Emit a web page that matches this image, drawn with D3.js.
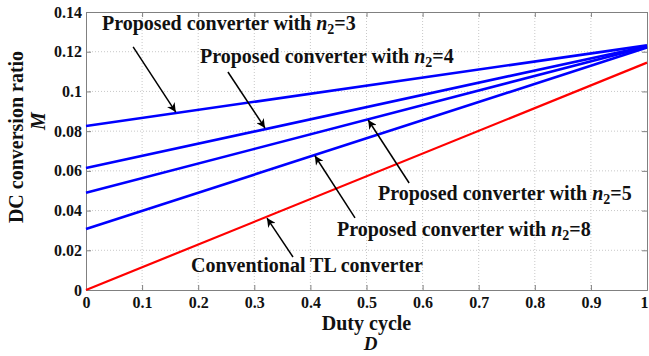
<!DOCTYPE html>
<html>
<head>
<meta charset="utf-8">
<script src="https://cdn.jsdelivr.net/npm/d3@7"></script>
<style>
  body { margin: 0; background: #fff; }
  text { font-family: "Liberation Serif", "Times New Roman", serif; font-weight: bold; fill: #111; }
</style>
</head>
<body>
<div id="chart"></div>
<script>
// duty cycle D at which the curves were read
var duty = [0, 1];

// conversion ratio M
var mN3 = [0.0826, 0.1232];
var mN4 = [0.0614, 0.1228];
var mN5 = [0.0490, 0.1225];
var mN8 = [0.0307, 0.1221];
var mConv = [0, 0.1145];

var xTicks = [0, 0.1, 0.2, 0.3, 0.4, 0.5, 0.6, 0.7, 0.8, 0.9, 1];
var yTicks = [0, 0.02, 0.04, 0.06, 0.08, 0.1, 0.12, 0.14];

var series = [
  {name: "n2=3", values: mN3, color: "#0000ff", width: 2.6},
  {name: "n2=4", values: mN4, color: "#0000ff", width: 2.6},
  {name: "n2=5", values: mN5, color: "#0000ff", width: 2.6},
  {name: "n2=8", values: mN8, color: "#0000ff", width: 2.6},
  {name: "conv", values: mConv, color: "#ff0000", width: 2.2}
];

// labels with arrows: tip and tail in data units
var notes = [
  {n: "3", lx: 102, ly: 30, tip: [0.160, 0.0896], tail: [0.084, 0.1224]},
  {n: "4", lx: 200, ly: 63, tip: [0.319, 0.0816], tail: [0.253, 0.1098]},
  {n: "5", lx: 378, ly: 200, tip: [0.503, 0.0856], tail: [0.576, 0.0539]},
  {n: "8", lx: 337, ly: 236, tip: [0.408, 0.0676], tail: [0.4795, 0.0363]},
  {n: null, lx: 191, ly: 272, tip: [0.3226, 0.0362], tail: [0.369, 0.0166]}
];

var margin = {top: 12, right: 2, bottom: 66, left: 86},
    width = 649 - margin.left - margin.right,
    height = 356 - margin.top - margin.bottom;

var root = d3.select("#chart").append("svg")
    .attr("width", 649)
    .attr("height", 356);

root.append("defs").append("marker")
    .attr("id", "head")
    .attr("viewBox", "0 0 10 10")
    .attr("refX", 10).attr("refY", 5)
    .attr("markerUnits", "userSpaceOnUse")
    .attr("markerWidth", 12).attr("markerHeight", 9)
    .attr("orient", "auto")
  .append("path")
    .attr("d", "M0,0 L10,5 L0,10 L3,5 Z")
    .attr("fill", "#000");

var svg = root.append("g")
    .attr("transform", "translate(" + margin.left + "," + margin.top + ")");

var x = d3.scaleLinear().domain([0, 1]).range([0, width]);
var y = d3.scaleLinear().domain([0, 0.14]).range([height, 0]);

// grid
svg.append("g").selectAll("line").data(xTicks.slice(1, -1)).enter().append("line")
    .attr("x1", function(d){ return x(d); }).attr("x2", function(d){ return x(d); })
    .attr("y1", 0).attr("y2", height)
    .attr("stroke", "#c8c8c8").attr("stroke-dasharray", "1,2");
svg.append("g").selectAll("line").data(yTicks.slice(1, -1)).enter().append("line")
    .attr("y1", function(d){ return y(d); }).attr("y2", function(d){ return y(d); })
    .attr("x1", 0).attr("x2", width)
    .attr("stroke", "#c8c8c8").attr("stroke-dasharray", "1,2");

// axes, ticks pointing inward
var axisColor = "#808080";
function styleAxis(g) {
  g.select(".domain").attr("stroke", axisColor);
  g.selectAll(".tick line").attr("stroke", axisColor);
  g.selectAll("text").style("font-size", "16px").attr("fill", "#111");
}
var xAxis = svg.append("g")
    .attr("transform", "translate(0," + height + ")")
    .call(d3.axisBottom(x).tickValues(xTicks).tickSize(-5).tickPadding(7).tickFormat(d3.format("")))
    .call(styleAxis);
// last label sits on the right edge
xAxis.selectAll(".tick text").filter(function(d){ return d === 1; }).attr("dx", -3);
svg.append("g")
    .call(d3.axisLeft(y).tickValues(yTicks).tickSize(-5).tickPadding(4).tickFormat(d3.format("")))
    .call(styleAxis);
svg.append("g")
    .call(d3.axisTop(x).tickValues(xTicks).tickSize(-5).tickFormat(""))
    .call(styleAxis);
svg.append("g")
    .attr("transform", "translate(" + width + ",0)")
    .call(d3.axisRight(y).tickValues(yTicks).tickSize(-5).tickFormat(""))
    .call(styleAxis);

// curves
var line = d3.line()
    .x(function(d, i){ return x(duty[i]); })
    .y(function(d){ return y(d); });
svg.selectAll(".curve").data(series).enter().append("path")
    .attr("class", "curve")
    .attr("d", function(d){ return line(d.values); })
    .attr("fill", "none")
    .attr("stroke", function(d){ return d.color; })
    .attr("stroke-width", function(d){ return d.width; });

// annotations
notes.forEach(function(a) {
  root.append("line")
      .attr("x1", margin.left + x(a.tail[0])).attr("y1", margin.top + y(a.tail[1]))
      .attr("x2", margin.left + x(a.tip[0])).attr("y2", margin.top + y(a.tip[1]))
      .attr("stroke", "#000").attr("stroke-width", 1.5)
      .attr("marker-end", "url(#head)");
  var t = root.append("text")
      .attr("x", a.lx).attr("y", a.ly)
      .style("font-size", "20px");
  if (a.n === null) {
    t.text("Conventional TL converter");
  } else {
    t.append("tspan").text("Proposed converter with ");
    t.append("tspan").style("font-style", "italic").text("n");
    t.append("tspan").attr("dy", 4).style("font-size", "14px").text("2");
    t.append("tspan").attr("dy", -4).text("=" + a.n);
  }
});

// axis titles
root.append("text")
    .attr("x", margin.left + width / 2).attr("y", 330)
    .attr("text-anchor", "middle")
    .style("font-size", "20px")
    .text("Duty cycle");
root.append("text")
    .attr("x", margin.left + width / 2 + 4).attr("y", 350)
    .attr("text-anchor", "middle")
    .style("font-size", "19px").style("font-style", "italic")
    .text("D");
root.append("text")
    .attr("transform", "translate(23,137) rotate(-90)")
    .attr("text-anchor", "middle")
    .style("font-size", "20px")
    .text("DC conversion ratio");
root.append("text")
    .attr("transform", "translate(45,121) rotate(-90)")
    .attr("text-anchor", "middle")
    .style("font-size", "20px").style("font-style", "italic")
    .text("M");
</script>
</body>
</html>
